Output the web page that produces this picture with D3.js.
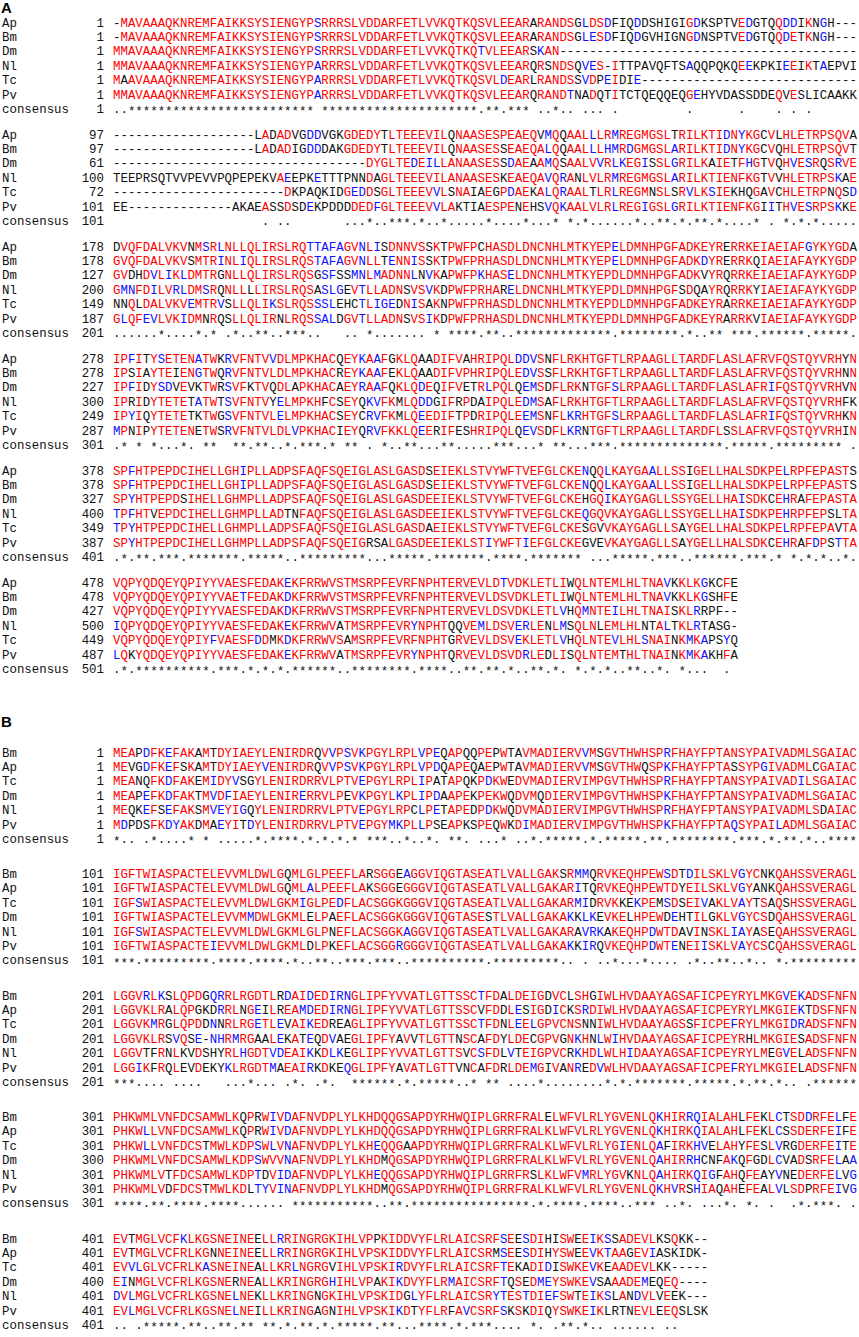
<!DOCTYPE html>
<html>
<head>
<meta charset="utf-8">
<script src="https://cdn.jsdelivr.net/npm/d3@7/dist/d3.min.js"></script>
<style>
  body { margin: 0; background: #fff; }
</style>
</head>
<body>
<div id="chart"></div>
<script>
const gap = n => "-".repeat(n);

// ---- panel A ----
const namesA = ["Ap", "Bm", "Dm", "Nl", "Tc", "Pv"];
const startsA = [
  [1, 1, 1, 1, 1, 1],
  [97, 97, 61, 100, 72, 101],
  [178, 178, 127, 200, 149, 187],
  [278, 278, 227, 300, 249, 287],
  [378, 378, 327, 400, 349, 387],
  [478, 478, 427, 500, 449, 487]
];
const consStartsA = [1, 101, 201, 301, 401, 501];

const blockA1 = [
  "-MAVAAAQKNREMFAIKKSYSIENGYPSRRRSLVDDARFETLVVKQTKQSVLEEARARANDSGLDSDFIQDDSHIGIGDKSPTVEDGTQQDDIKNGH---",
  "-MAVAAAQKNREMFAIKKSYSIENGYPSRRRSLVDDARFETLVVKQTKQSVLEEARARANDSGLESDFIQDGVHIGNGDNSPTVEDGTQQDETKNGH---",
  "MMAVAAAQKNREMFAIKKSYSIENGYPSRRRSLVDDARFETLVVKQTKQTVLEEARSKAN" + gap(40),
  "MMAVAAAQKNREMFAIKKSYSIENGYPARRRSLVDDARFETLVVKQTKQSVLEEARQRSNDSQVES-ITTPAVQFTSAQQPQKQEEKPKIEEIKTAEPVI",
  "MAAVAAAQKNREMFAIKKSYSIENGYPARRRSLVDDARFETLVVKQTKQSVLDEARLRANDSSVDPEIDIE" + gap(29),
  "MMAVAAAQKNREMFAIKKSYSIENGYPARRRSLVDDARFETLVVKQTKQSVLEEARQRANDTNADQTITCTQEQQEQGEHYVDASSDDEQVESLICAAKK"
];
const blockA2 = [
  gap(19) + "LADADVGDDVGKGDEDYTLTEEEVILQNAASESPEAEQVMQQAALLLRMREGMGSLTRILKTIDNYKGCVLHLETRPSQVA",
  gap(19) + "LADADIGDDDAKGDEDYTLTEEEVILQNAASESSEAEQALQQAALLLHMRDGMGSLARILKTIDNYKGCVQHLETRPSQVT",
  gap(34) + "DYGLTEDEILLANAASESSDAEAAMQSAALVVRLKEGISSLGRILKAIETFHGTVQHVESRQSRVE",
  "TEEPRSQTVVPEVVPQPEPEKVAEEPKETTTPNNDAGLTEEEVILANAASESKEAEQAVQRANLVLRMREGMGSLARILKTIENFKGTVVHLETRPSKAE",
  gap(23) + "DKPAQKIDGEDDSGLTEEEVVLSNAIAEGPDAEKALQRAALTLRLREGMNSLSRVLKSIEKHQGAVCHLETRPNQSD",
  "EE" + gap(14) + "AKAEASSDSDEKPDDDDEDFGLTEEEVVLAKTIAESPENEHSVQKAALVLRLREGIGSLGRILKTIENFKGIITHVESRPSKKE"
];
const blockA3 = [
  "DVQFDALVKVNMSRLNLLQLIRSLRQTTAFAGVNLISDNNVSSKTPWFPCHASDLDNCNHLMTKYEPELDMNHPGFADKEYRERRKEIAEIAFGYKYGDA",
  "GVQFDALVKVSMTRINLIQLIRSLRQSTAFAGVNLLTENNISSKTPWFPRHASDLDNCNHLMTKYEPELDMNHPGFADKDYRERRKQIAEIAFAYKYGDP",
  "GVDHDVLIKLDMTRGNLLQLIRSLRQSGSFSSMNLMADNNLNVKAPWFPKHASELDNCNHLMTKYEPDLDMNHPGFADKVYRQRRKEIAEIAFAYKYGDP",
  "GMNFDILVRLDMSRQNLLLLIRSLRQSASLGEVTLLADNSVSVKDPWFPRHARELDNCNHLMTKYEPDLDMNHPGFSDQAYRQRRKYIAEIAFAYKYGDP",
  "NNQLDALVKVEMTRVSLLQLIKSLRQSSSLEHCTLIGEDNISAKNPWFPRHASDLDNCNHLMTKYEPDLDMNHPGFADKEYRARRKEIAEIAFAYKYGDP",
  "GLQFEVLVKIDMNRQSLLQLIRNLRQSSALDGVTLLADNSVSIKDPWFPRHASDLDNCNHLMTKYEPDLDMNHPGFADKEYRARRKVIAEIAFAYKYGDP"
];
const blockA4 = [
  "IPFITYSETENATWKRVFNTVVDLMPKHACQEYKAAFGKLQAADIFVAHRIPQLDDVSNFLRKHTGFTLRPAAGLLTARDFLASLAFRVFQSTQYVRHYN",
  "IPSIAYTEIENGTWQRVFNTVLDLMPKHACREYKAAFEKLQAADIFVPHRIPQLEDVSSFLRKHTGFTLRPAAGLLTARDFLASLAFRVFQSTQYVRHNN",
  "IPFIDYSDVEVKTWRSVFKTVQDLAPKHACAEYRAAFQKLQDEQIFVETRLPQLQEMSDFLRKNTGFSLRPAAGLLTARDFLASLAFRIFQSTQYVRHVN",
  "IPRIDYTETETATWTSVFNTVYELMPKHFCSEYQKVFKMLQDDGIFRPDAIPQLEDMSAFLRKHTGFTLRPAAGLLTARDFLASLAFRVFQSTQYVRHFK",
  "IPYIQYTETETKTWGSVFNTVLELMPKHACSEYCRVFKMLQEEDIFTPDRIPQLEEMSNFLKRHTGFSLRPAAGLLTARDFLASLAFRIFQSTQYVRHKN",
  "MPNIPYTETENETWSRVFNTVLDLVPKHACIEYQRVFKKLQEERIFESHRIPQLQEVSDFLKRNTGFTLRPAAGLLTARDFLSSLAFRVFQSTQYVRHIN"
];
const blockA5 = [
  "SPFHTPEPDCIHELLGHIPLLADPSFAQFSQEIGLASLGASDSEIEKLSTVYWFTVEFGLCKENQQLKAYGAALLSSIGELLHALSDKPELRPFEPASTS",
  "SPFHTPEPDCIHELLGHIPLLADPSFAQFSQEIGLASLGASDSEIEKLSTVYWFTVEFGLCKENQQLKAYGAALLSSIGELLHALSDKPELRPFEPASTS",
  "SPYHTPEPDSIHELLGHMPLLADPSFAQFSQEIGLASLGASDEEIEKLSTVYWFTVEFGLCKEHGQIKAYGAGLLSSYGELLHAISDKCEHRAFEPASTA",
  "TPFHTVEPDCIHELLGHMPLLADTNFAQFSQEIGLASLGASDEEIEKLSTVYWFTVEFGLCKEQGQVKAYGAGLLSSYGELLHAISDKPEHRPFEPSLTA",
  "TPYHTPEPDCIHELLGHMPLLADPSFAQFSQEIGLASLGASDAEIEKLSTVYWFTVEFGLCKESGVVKAYGAGLLSAYGELLHALSDKPELRPFEPAVTA",
  "SPYHTPEPDCIHELLGHMPLLADPSFAQFSQEIGRSALGASDEEIEKLSTIYWFTIEFGLCKEGVEVKAYGAGLLSAYGELLHALSDKCEHRAFDPSTTA"
];
const blockA6 = [
  "VQPYQDQEYQPIYYVAESFEDAKEKFRRWVSTMSRPFEVRFNPHTERVEVLDTVDKLETLIWQLNTEMLHLTNAVKKLKGKCFE",
  "VQPYQDQEYQPIYYVAETFEDAKDKFRRWVSTMSRPFEVRFNPHTERVEVLDSVDKLETLIWQLNTEMLHLTNAVKKLKGSHFE",
  "VQPYQDQEYQPIYYVAESFEDAKDKFRRWVSTMSRPFEVRFNPHTERVEVLDSVDKLETLVHQMNTEILHLTNAISKLRRPF--",
  "IQPYQDQEYQPIYYVAESFEDAKEKFRRWVATMSRPFEVRYNPHTQQVEMLDSVERLENLMSQLNLEMLHLNTALTKLRTASG-",
  "VQPYQDQEYQPIYFVAESFDDMKDKFRRWVSAMSRPFEVRFNPHTGRVEVLDSVEKLETLVHQLNTEVLHLSNAINKMKAPSYQ",
  "LQKYQDQEYQPIYYVAESFEDAKEKFRRWVATMSRPFEVRYNPHTQRVEVLDSVDRLEDLISQLNTEMTHLTNAINKMKAKHFA"
];

// ---- panel B ----
const namesB = ["Bm", "Ap", "Tc", "Dm", "Nl", "Pv"];
const startsB = [
  [1, 1, 1, 1, 1, 1],
  [101, 101, 101, 101, 101, 101],
  [201, 201, 201, 201, 201, 201],
  [301, 301, 301, 300, 301, 301],
  [401, 401, 401, 400, 401, 401]
];
const consStartsB = [1, 101, 201, 301, 401];

const blockB1 = [
  "MEAPDFKEFAKAMTDYIAEYLENIRDRQVVPSVKPGYLRPLVPEQAPQQPEPWTAVMADIERVVMSGVTHWHSPRFHAYFPTANSYPAIVADMLSGAIAC",
  "MEVGDFKEFSKAMTDYIAEYVENIRDRQVVPSVKPGYLRPLVPDQAPEQAEPWTAVMADIERVVMSGVTHWQSPKFHAYFPTASSYPGIVADMLCGAIAC",
  "MEANQFKDFAKEMIDYVSGYLENIRDRRVLPTVEPGYLRPLIPATAPQKPDKWEDVMADIERVIMPGVTHWHSPRFHAYFPTANSYPAIVADILSGAIAC",
  "MEAPEFKDFAKTMVDFIAEYLENIRERRVLPEVKPGYLKPLIPDAAPEKPEKWQDVMQDIERVIMPGVTHWHSPKFHAYFPTANSYPAIVADMLSGAIAC",
  "MEQKEFSEFAKSMVEYIGQYLENIRDRRVLPTVEPGYLRPCLPETAPEDPDKWQDVMADIERVIMPGVTHWHSPRFHAYFPTANSYPAIVADMLSDAIAC",
  "MDPDSFKDYAKDMAEYITDYLENIRDRRVLPTVEPGYMKPLLPSEAPKSPEQWKDIMADIERVIMPGVTHWHSPKFHAYFPTAQSYPAILADMLSGAIAC"
];
const blockB2 = [
  "IGFTWIASPACTELEVVMLDWLGQMLGLPEEFLARSGGEAGGVIQGTASEATLVALLGAKSRMMQRVKEQHPEWSDTDILSKLVGYCNKQAHSSVERAGL",
  "IGFTWIASPACTELEVVMLDWLGQMLALPEEFLAKSGGEGGGVIQGTASEATLVALLGAKARITQRVKEQHPEWTDYEILSKLVGYANKQAHSSVERAGL",
  "IGFSWIASPACTELEVVMLDWLGKMIGLPEDFLACSGGKGGGVIQGTASEATLVALLGAKARMIDRVKKEKPEMSDSEIVAKLVAYTSAQSHSSVERAGL",
  "IGFTWIASPACTELEVVMMDWLGKMLELPAEFLACSGGKGGGVIQGTASESTLVALLGAKAKKLKEVKELHPEWDEHTILGKLVGYCSDQAHSSVERAGL",
  "IGFSWIASPACTELEVVMLDWLGKMLGLPNEFLACSGGKAGGVIQGTASEATLVALLGAKARAVRKAKEQHPDWTDAVINSKLIAYASEQAHSSVERAGL",
  "IGFTWIASPACTEIEVVMLDWLGKMLDLPKEFLACSGGRGGGVIQGTASEATLVALLGAKAKKIRQVKEQHPDWTENEIISKLVAYCSCQAHSSVERAGL"
];
const blockB3 = [
  "LGGVRLKSLQPDGQRRLRGDTLRDAIDEDIRNGLIPFYVVATLGTTSSCTFDALDEIGDVCLSHGIWLHVDAAYAGSAFICPEYRYLMKGVEKADSFNFN",
  "LGGVKLRALQPGKDRRLNGEILREAMDEDIRNGLIPFYVVATLGTTSSCVFDDLESIGDICKSRDIWLHVDAAYAGSAFICPEYRYLMKGIEKTDSFNFN",
  "LGGVKMRGLQPDDNNRLRGETLEVAIKEDREAGLIPFYVVATLGTTSSCTFDNLEELGPVCNSNNIWLHVDAAYAGSSFICPEFRYLMKGIDRADSFNFN",
  "LGGVKLRSVQSE-NHRMRGAALEKATEQDVAEGLIPFYAVVTLGTTNSCAFDYLDECGPVGNKHNLWIHVDAAYAGSAFICPEYRHLMKGIESADSFNFN",
  "LGGVTFRNLKVDSHYRLHGDTVDEAIKKDLKEGLIPFYVVATLGTTSVCSFDLVTEIGPVCRKHDLWLHIDAAYAGSAFICPEYRYLMEGVELADSFNFN",
  "LGGIKFRQLEVDEKYKLRGDTMAEAIRKDKEQGLIPFYAVATLGTTVNCAFDRLDEMGIVANREDVWLHVDAAYAGSAFICPEFRYLMKGIELADSFNFN"
];
const blockB4 = [
  "PHKWMLVNFDCSAMWLKQPRWIVDAFNVDPLYLKHDQQGSAPDYRHWQIPLGRRFRALELWFVLRLYGVENLQKHIRRQIALAHLFEKLCTSDDRFELFE",
  "PHKWLLVNFDCSAMWLKQPRWIVDAFNVDPLYLKHDQQGSAPDYRHWQIPLGRRFRALKLWFVLRLYGVENLQKHIRKQIALAHLFEKLCSSDERFEIFE",
  "PHKWLLVNFDCSTMWLKDPSWLVNAFNVDPLYLKHEQQGAAPDYRHWQIPLGRRFRALKLWFVLRLYGIENLQAFIRKHVELAHYFESLVRGDERFEITE",
  "PHKWMLVNFDCSAMWLKDPSWVVNAFNVDPLYLKHDMQGSAPDYRHWQIPLGRRFRALKLWFVLRLYGVENLQAHIRRHCNFAKQFGDLCVADSRFELAA",
  "PHKWMLVTFDCSAMWLKDPTDVIDAFNVDPLYLKHEQQGSAPDYRHWQIPLGRRFRSLKLWFVMRLYGVKNLQAHIRKQIGFAHQFEAYVNEDERFELVG",
  "PHKWMLVDFDCSTMWLKDLTYVINAFNVDPLYLKHDMQGSAPDYRHWQIPLGRRFRALKLWFVLRLYGVENLQKHVRSHIAQAHEFEALVLSDPRFEIVG"
];
const blockB5 = [
  "EVTMGLVCFKLKGSNEINEELLRRINGRGKIHLVPPKIDDVYFLRLAICSRFSEESDIHISWEEIKSSADEVLKSQKK--",
  "EVTMGLVCFRLKGNNEINEELLRRINGRGKIHLVPSKIDDVYFLRLAICSRMSEESDIHYSWEEVKTAAGEVIASKIDK-",
  "EVVLGLVCFRLKASNEINEALLKRLNGRGVIHLVPSKIRDVYFLRLAICSRFTEKADIDISWKEVKEAADEVLKK-----",
  "EINMGLVCFRLKGSNERNEALLKRINGRGHIHLVPAKIKDVYFLRMAICSRFTQSEDMEYSWKEVSAAADEMEQEQ----",
  "DVLMGLVCFRLKGSNELNEKLLKRINGNGKIHLVPSKIDGLYFLRLAICSRYTESTDIEFSWTEIKSLANDVLVEEK---",
  "EVLMGLVCFRLKGSNELNEILLKRINGAGNIHLVPSKIKDTYFLRFAVCSRFSKSKDIQYSWKEIKLRTNEVLEEQSLSK"
];

const blocksA = [blockA1, blockA2, blockA3, blockA4, blockA5, blockA6];
const blocksB = [blockB1, blockB2, blockB3, blockB4, blockB5];

// similarity groups used for the consensus / colouring
const simGroups = ["DE", "KRH", "ST", "ILVM", "FYW", "NQ", "AG"];
const groupOf = ch => simGroups.find(g => g.includes(ch)) || ch;

const width = 859, height = 1337;
const cell = 7.44;
const rowStep = 14.4;
const fontSize = "12.6px";
const RED = "#ff0000", BLUE = "#1010ff", BLACK = "#111";

const x = d3.scaleLinear().domain([0, 100]).range([113, 113 + 100 * cell]);
const rowY = d3.scaleLinear().domain([0, 6]).range([0, 6 * rowStep]);

const svg = d3.select("#chart").append("svg")
  .attr("width", width)
  .attr("height", height)
  .attr("viewBox", `0 0 ${width} ${height}`)
  .style("font-family", "'Liberation Mono', monospace");

function analyse(rows) {
  const len = d3.max(rows, r => r.length);
  const cons = [];
  const fills = rows.map(() => []);
  for (let c = 0; c < len; c++) {
    const col = rows.map(r => r[c] || "-");
    const res = col.filter(ch => /[A-Z]/.test(ch));
    const cnt = d3.rollup(res, v => v.length, d => d);
    const gcnt = d3.rollup(res, v => v.length, d => groupOf(d));
    const counts = Array.from(cnt.values()).sort((a, b) => b - a);
    const top = counts[0] || 0, second = counts[1] || 0;
    const gmax = d3.max(Array.from(gcnt.values())) || 0;

    let mark = " ";
    if (res.length === rows.length && cnt.size === 1) mark = "*";
    else if ((top >= 3 && top > second) || gmax >= 4) mark = ".";
    cons.push(mark);

    col.forEach((ch, i) => {
      let f = BLACK;
      if (/[A-Z]/.test(ch)) {
        const n = cnt.get(ch);
        if (n >= 3 && n === top && top > second) f = RED;
        else if (gcnt.get(groupOf(ch)) >= 3) f = BLUE;
      }
      fills[i].push(f);
    });
  }
  return { cons: cons.join(""), fills };
}

function drawText(g, str, xPos, y, anchor) {
  g.append("text")
    .attr("x", xPos)
    .attr("y", y)
    .attr("text-anchor", anchor || "start")
    .attr("textLength", str.length * cell)
    .attr("lengthAdjust", "spacingAndGlyphs")
    .style("font-size", fontSize)
    .style("fill", BLACK)
    .text(str);
}

function drawBlock(top, names, rows, starts, consStart) {
  const g = svg.append("g").attr("transform", `translate(0,${top})`);
  const { cons, fills } = analyse(rows);

  rows.forEach((seq, i) => {
    const base = rowY(i) + 4.5;
    drawText(g, names[i], 2, base);
    drawText(g, String(starts[i]), 104, base, "end");

    g.append("g").selectAll("text")
      .data(seq.split("").map((ch, c) => ({ ch, c, fill: fills[i][c] })))
      .join("text")
      .attr("x", d => x(d.c))
      .attr("y", base)
      .attr("textLength", cell)
      .attr("lengthAdjust", "spacingAndGlyphs")
      .style("font-size", fontSize)
      .style("fill", d => d.fill)
      .text(d => d.ch);
  });

  const cy = rowY(6) + 4.5;
  drawText(g, "consensus", 2, cy);
  drawText(g, String(consStart), 104, cy, "end");
  g.append("g").selectAll("text")
    .data(cons.split("").map((ch, c) => ({ ch, c })).filter(d => d.ch !== " "))
    .join("text")
    .attr("x", d => x(d.c))
    .attr("y", d => d.ch === "*" ? cy + 2.5 : cy)
    .attr("textLength", cell)
    .attr("lengthAdjust", "spacingAndGlyphs")
    .style("font-size", fontSize)
    .style("fill", BLACK)
    .text(d => d.ch);
}

// panel labels
svg.append("text").attr("x", 1).attr("y", 13)
  .style("font-family", "'Liberation Sans', Arial, sans-serif")
  .style("font-weight", "bold").style("font-size", "15px").text("A");
svg.append("text").attr("x", 1).attr("y", 727)
  .style("font-family", "'Liberation Sans', Arial, sans-serif")
  .style("font-weight", "bold").style("font-size", "15px").text("B");

blocksA.forEach((rows, b) => drawBlock(22 + b * 112, namesA, rows, startsA[b], consStartsA[b]));
blocksB.forEach((rows, b) => drawBlock(752 + b * 121.5, namesB, rows, startsB[b], consStartsB[b]));
</script>
</body>
</html>
